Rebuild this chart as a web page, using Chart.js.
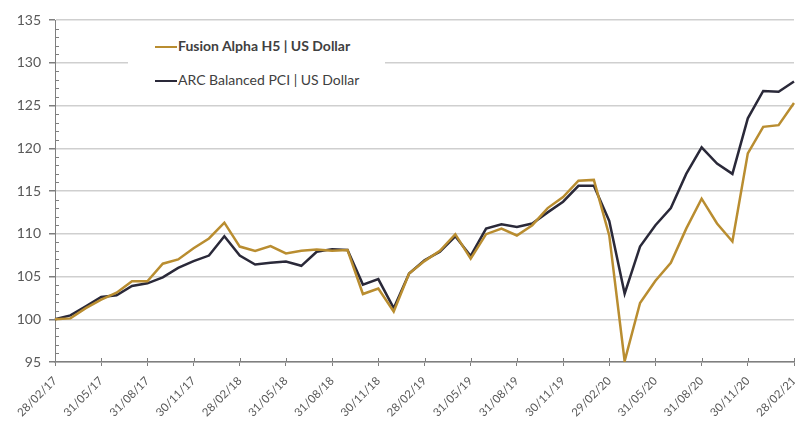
<!DOCTYPE html>
<html>
<head>
<meta charset="utf-8">
<script src="https://cdn.jsdelivr.net/npm/chart.js@4"></script>
<style>
  html, body { margin: 0; padding: 0; background: #fff; }
  #wrap { position: relative; width: 795px; height: 421px; }
  #legend {
    position: absolute; left: 128px; top: 33px; width: 257px; height: 58px;
    background: #fff; font-family: Lato, sans-serif; font-size: 14px; color: #404040;
  }
  #legend div { position: absolute; left: 27px; white-space: nowrap; line-height: 17px; }
  #legend span { display: inline-block; width: 22px; height: 2px; vertical-align: middle; margin-right: 1px; }
</style>
</head>
<body>
<div id="wrap">
  <canvas id="perfChart"></canvas>
  <div id="legend">
    <div style="top:4px;font-weight:bold"><span style="background:#B98D30"></span>Fusion Alpha H5 | US Dollar</div>
    <div style="top:38px"><span style="background:#2A2939"></span>ARC Balanced PCI | US Dollar</div>
  </div>
</div>
<script>
const dates = [
  '28/02/17', '31/03/17', '30/04/17', '31/05/17', '30/06/17', '31/07/17', '31/08/17', '30/09/17', '31/10/17', '30/11/17', '31/12/17',
  '31/01/18', '28/02/18', '31/03/18', '30/04/18', '31/05/18', '30/06/18', '31/07/18', '31/08/18', '30/09/18', '31/10/18', '30/11/18', '31/12/18',
  '31/01/19', '28/02/19', '31/03/19', '30/04/19', '31/05/19', '30/06/19', '31/07/19', '31/08/19', '30/09/19', '31/10/19', '30/11/19', '31/12/19',
  '31/01/20', '29/02/20', '31/03/20', '30/04/20', '31/05/20', '30/06/20', '31/07/20', '31/08/20', '30/09/20', '31/10/20', '30/11/20', '31/12/20',
  '31/01/21', '28/02/21'
];

const fusionAlpha = [
  100.0, 100.1, 101.3, 102.3, 103.1, 104.45, 104.45, 106.5, 107.0, 108.3, 109.45,
  111.3, 108.5, 108.0, 108.55, 107.7, 108.0, 108.15, 108.0, 108.1, 102.95, 103.6,
  100.9, 105.35, 106.8, 108.0, 109.95, 107.1, 109.95, 110.6, 109.8, 111.0, 113.0,
  114.3, 116.2, 116.3, 109.8, 95.1, 101.9, 104.5, 106.6, 110.6, 114.1, 111.2,
  109.1, 119.4, 122.5, 122.7, 125.3
];

const arcBalanced = [
  100.0, 100.45, 101.5, 102.6, 102.8, 103.9, 104.2, 104.9, 106.0, 106.8, 107.45,
  109.7, 107.45, 106.4, 106.6, 106.75, 106.25, 107.9, 108.2, 108.1, 104.05, 104.7,
  101.3, 105.35, 106.9, 107.9, 109.7, 107.4, 110.6, 111.1, 110.8, 111.2, 112.5,
  113.75, 115.6, 115.6, 111.5, 103.0, 108.5, 111.0, 113.0, 117.0, 120.1, 118.2,
  117.0, 123.5, 126.7, 126.6, 127.8
];

const yMin = 95;
const yMax = 135;
const yStep = 5;
const labelEvery = 3;

// Minor y ticks inside the axis, x ticks crossing the axis line
const axisTicks = {
  id: 'axisTicks',
  afterDraw(chart) {
    const ctx = chart.ctx;
    const x = chart.scales.x;
    const y = chart.scales.y;
    ctx.save();
    ctx.strokeStyle = '#7f7f7f';
    ctx.lineWidth = 1;
    ctx.beginPath();
    for (let v = yMin; v <= yMax; v++) {
      if (v % yStep === 0) continue;
      const py = Math.round(y.getPixelForValue(v)) + 0.5;
      ctx.moveTo(y.right, py);
      ctx.lineTo(y.right + 4, py);
    }
    for (let i = 0; i < dates.length; i += labelEvery) {
      const px = Math.round(x.getPixelForValue(i)) + 0.5;
      ctx.moveTo(px, x.top);
      ctx.lineTo(px, x.top - 4);
    }
    ctx.stroke();
    ctx.restore();
  }
};

const ctx = document.getElementById('perfChart').getContext('2d');
new Chart(ctx, {
  type: 'line',
  data: {
    labels: dates,
    datasets: [{
      label: 'Fusion Alpha H5 | US Dollar',
      data: fusionAlpha,
      borderColor: '#B98D30',
      borderWidth: 2.5,
      pointRadius: 0,
      tension: 0,
    }, {
      label: 'ARC Balanced PCI | US Dollar',
      data: arcBalanced,
      borderColor: '#2A2939',
      borderWidth: 2.5,
      pointRadius: 0,
      tension: 0,
    }],
  },
  options: {
    responsive: true,
    maintainAspectRatio: false,
    animation: false,
    layout: { padding: { top: 20, left: 0, right: 1, bottom: 0 } },
    plugins: {
      legend: { display: false },
      tooltip: { enabled: false },
    },
    scales: {
      x: {
        offset: false,
        grid: { drawOnChartArea: false, tickLength: 4, tickColor: '#7f7f7f' },
        border: { color: '#7f7f7f', width: 1.5 },
        ticks: {
          autoSkip: false,
          maxRotation: 45,
          minRotation: 45,
          padding: 8,
          color: '#595959',
          font: { family: 'Lato', size: 11.5 },
          callback: (val, i) => (i % labelEvery === 0 ? dates[i] : null),
        },
        afterFit: (scale) => {
          scale.height = 59;
          scale.paddingLeft = 0;
          scale.paddingRight = 0;
        },
      },
      y: {
        min: yMin,
        max: yMax,
        grid: { color: '#cfcfcf', lineWidth: 1.5, tickLength: 6, tickColor: '#7f7f7f' },
        border: { color: '#7f7f7f', width: 1 },
        ticks: {
          stepSize: yStep,
          padding: 8,
          color: '#595959',
          font: { family: 'Lato', size: 14 },
        },
        afterFit: (scale) => { scale.width = 55; },
      },
    },
  },
  plugins: [axisTicks],
});
</script>
</body>
</html>
